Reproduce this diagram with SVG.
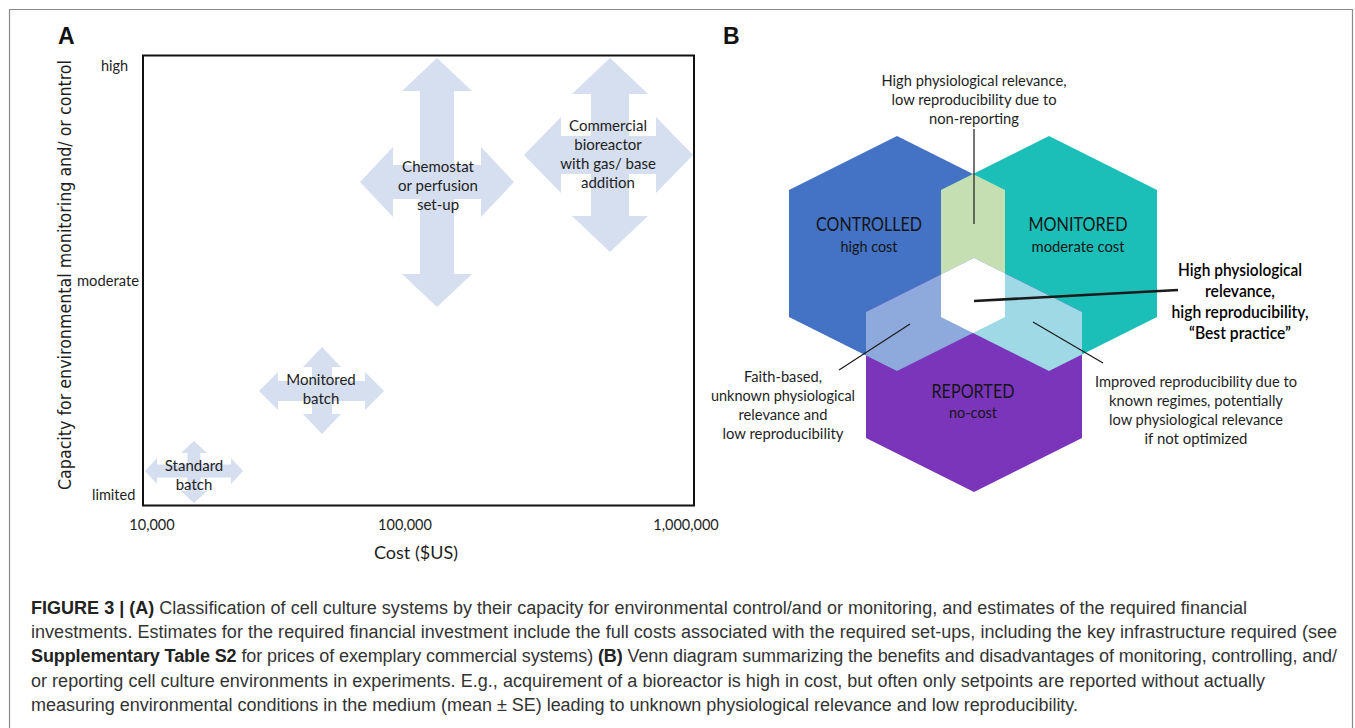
<svg xmlns="http://www.w3.org/2000/svg" width="1355" height="728" viewBox="0 0 1355 728">
<defs>
<style>
.frame{fill:none;stroke:#8a8a8a;stroke-width:1.2}
.arr{fill:#d5dfef}
.lbl{font-family:Lato,"Liberation Sans",sans-serif;fill:#1e1e1e;text-anchor:middle}
.tick{font-family:Lato,"Liberation Sans",sans-serif;fill:#1e1e1e;font-size:14.5px}
.panel{font-family:"Liberation Sans",Arial,sans-serif;font-weight:bold;font-size:23px;fill:#111}
.ann{font-family:Lato,"Liberation Sans",sans-serif;fill:#1e1e1e;text-anchor:middle;font-size:14.5px}
.annb{font-family:Lato,"Liberation Sans",sans-serif;fill:#000;text-anchor:middle;font-size:16.5px;font-weight:600}
.hexl{font-family:Lato,"Liberation Sans",sans-serif;fill:#151515;text-anchor:middle}
.cap{font-family:"Liberation Sans",Arial,sans-serif;font-size:18px;fill:#333}
.b{font-weight:bold;fill:#222}
.lead{stroke:#1a1a1a;fill:none}
</style>
<polygon id="hexC" points="897,136 1005,190 1005,317 897,371 789,317 789,190"/>
<polygon id="hexM" points="1049,136 1157,190 1157,317 1049,371 941,317 941,190"/>
<polygon id="hexR" points="974,258 1082,312 1082,438 974,492 866,438 866,312"/>
<clipPath id="clipC"><use href="#hexC"/></clipPath>
<clipPath id="clipM"><use href="#hexM"/></clipPath>
</defs>

<rect x="0" y="0" width="1355" height="728" fill="#ffffff"/>
<path class="frame" d="M9.5,728 V9.5 H1352.5 V728"/>

<!-- Panel A -->
<g id="panelA">
<text class="panel" x="58" y="44">A</text>
<rect id="plotBox" x="143" y="55.5" width="551" height="450" fill="none" stroke="#111" stroke-width="2"/>
<text class="tick" x="101" y="71">high</text>
<text class="tick" x="77" y="286" textLength="62" lengthAdjust="spacingAndGlyphs">moderate</text>
<text class="tick" x="92" y="500">limited</text>
<text class="tick" x="152" y="530" text-anchor="middle">10,000</text>
<text class="tick" x="405" y="530" text-anchor="middle">100,000</text>
<text class="tick" x="686" y="530" text-anchor="middle">1,000,000</text>
<text class="lbl" x="416" y="559" font-size="18">Cost ($US)</text>
<text class="lbl" transform="translate(71,275) rotate(-90)" font-size="17.5" textLength="430" lengthAdjust="spacingAndGlyphs" style="font-family:'DejaVu Sans',sans-serif">Capacity for environmental monitoring and/ or control</text>
</g>

<g id="node-chemostat">
<polygon class="arr" points="437,58 472,91 454,91 454,165 481,165 481,147 514,182 481,217 481,199 454,199 454,274 472,274 437,307 402,274 420,274 420,199 393,199 393,217 360,182 393,147 393,165 420,165 420,91 402,91"/>
<text class="lbl" font-size="15" x="438" y="172">Chemostat</text>
<text class="lbl" font-size="15" x="438" y="191">or perfusion</text>
<text class="lbl" font-size="15" x="438" y="210">set-up</text>
</g>

<g id="node-commercial">
<polygon class="arr" points="610,58 648,94 629,94 629,136 656,136 656,117 693,155 656,193 656,174 629,174 629,216 648,216 610,252 572,216 591,216 591,174 561,174 561,193 524,155 561,117 561,136 591,136 591,94 572,94"/>
<text class="lbl" font-size="15" x="608" y="131">Commercial</text>
<text class="lbl" font-size="15" x="608" y="150">bioreactor</text>
<text class="lbl" font-size="15" x="608" y="169">with gas/ base</text>
<text class="lbl" font-size="15" x="608" y="188">addition</text>
</g>

<g id="node-monitored-batch">
<polygon class="arr" points="322,347 341,367 332,367 332,381 365,381 365,372 384,391 365,410 365,401 332,401 332,414 341,414 322,434 303,414 312,414 312,401 278,401 278,410 259,391 278,372 278,381 312,381 312,367 303,367"/>
<text class="lbl" font-size="15" x="321" y="385">Monitored</text>
<text class="lbl" font-size="15" x="321" y="404">batch</text>
</g>

<g id="node-standard-batch">
<polygon class="arr" points="194,441 207,453 200.5,453 200.5,464.5 231,464.5 231,458 243,471 231,484 231,477.5 200.5,477.5 200.5,491 207,491 194,503 181,491 187.5,491 187.5,477.5 157,477.5 157,484 145,471 157,458 157,464.5 187.5,464.5 187.5,453 181,453"/>
<text class="lbl" font-size="15" x="194" y="471">Standard</text>
<text class="lbl" font-size="15" x="194" y="490">batch</text>
</g>

<!-- Panel B -->
<text class="panel" x="723" y="44">B</text>

<g id="node-controlled">
<use href="#hexC" fill="#4472c4"/>
</g>
<g id="node-monitored">
<use href="#hexM" fill="#1bbfb8"/>
<g clip-path="url(#clipC)"><use href="#hexM" fill="#c5dfb2"/></g>
</g>
<g id="node-reported">
<use href="#hexR" fill="#7b35bb"/>
<g clip-path="url(#clipC)"><use href="#hexR" fill="#8eaadc"/></g>
<g clip-path="url(#clipM)"><use href="#hexR" fill="#9fd9e5"/></g>
<g clip-path="url(#clipC)"><g clip-path="url(#clipM)"><use href="#hexR" fill="#ffffff"/></g></g>
</g>

<g id="labels-hex">
<text class="hexl" x="869" y="231" font-size="18.5" textLength="106" lengthAdjust="spacingAndGlyphs">CONTROLLED</text>
<text class="hexl" x="869" y="252" font-size="15" textLength="57" lengthAdjust="spacingAndGlyphs">high cost</text>
<text class="hexl" x="1078" y="231" font-size="18.5" textLength="99" lengthAdjust="spacingAndGlyphs">MONITORED</text>
<text class="hexl" x="1078" y="252" font-size="15" textLength="93" lengthAdjust="spacingAndGlyphs">moderate cost</text>
<text class="hexl" x="973" y="398" font-size="18.5" textLength="83" lengthAdjust="spacingAndGlyphs">REPORTED</text>
<text class="hexl" x="973" y="418" font-size="15" textLength="48" lengthAdjust="spacingAndGlyphs">no-cost</text>
</g>

<g id="connectors">
<line class="lead" x1="974" y1="129" x2="974" y2="224" stroke-width="1.2"/>
<line class="lead" x1="974" y1="301" x2="1178" y2="290" stroke-width="2.6"/>
<line class="lead" x1="910" y1="324" x2="839" y2="370" stroke-width="1.2"/>
<line class="lead" x1="1033" y1="322" x2="1103" y2="363" stroke-width="1.2"/>
</g>

<g id="note-top">
<text class="ann" x="974" y="86" textLength="185" lengthAdjust="spacingAndGlyphs">High physiological relevance,</text>
<text class="ann" x="974" y="105" textLength="165" lengthAdjust="spacingAndGlyphs">low reproducibility due to</text>
<text class="ann" x="974" y="124" textLength="90" lengthAdjust="spacingAndGlyphs">non-reporting</text>
</g>

<g id="note-best">
<text class="annb" x="1240" y="276" textLength="124" lengthAdjust="spacingAndGlyphs">High physiological</text>
<text class="annb" x="1240" y="297" textLength="70" lengthAdjust="spacingAndGlyphs">relevance,</text>
<text class="annb" x="1240" y="318" textLength="137" lengthAdjust="spacingAndGlyphs">high reproducibility,</text>
<text class="annb" x="1240" y="339" textLength="102" lengthAdjust="spacingAndGlyphs">“Best practice”</text>
</g>

<g id="note-faith">
<text class="ann" x="783" y="382" textLength="78" lengthAdjust="spacingAndGlyphs">Faith-based,</text>
<text class="ann" x="783" y="401" textLength="144" lengthAdjust="spacingAndGlyphs">unknown physiological</text>
<text class="ann" x="783" y="420" textLength="89" lengthAdjust="spacingAndGlyphs">relevance and</text>
<text class="ann" x="783" y="439" textLength="121" lengthAdjust="spacingAndGlyphs">low reproducibility</text>
</g>

<g id="note-improved">
<text class="ann" x="1196" y="387" textLength="202" lengthAdjust="spacingAndGlyphs">Improved reproducibility due to</text>
<text class="ann" x="1196" y="406" textLength="174" lengthAdjust="spacingAndGlyphs">known regimes, potentially</text>
<text class="ann" x="1196" y="425" textLength="174" lengthAdjust="spacingAndGlyphs">low physiological relevance</text>
<text class="ann" x="1196" y="444" textLength="103" lengthAdjust="spacingAndGlyphs">if not optimized</text>
</g>

<!-- Caption -->
<g id="caption">
<text class="cap" x="31" y="614" textLength="1216" lengthAdjust="spacing"><tspan class="b">FIGURE 3 | (A)</tspan> Classification of cell culture systems by their capacity for environmental control/and or monitoring, and estimates of the required financial</text>
<text class="cap" x="31" y="638" textLength="1306" lengthAdjust="spacing">investments. Estimates for the required financial investment include the full costs associated with the required set-ups, including the key infrastructure required (see</text>
<text class="cap" x="31" y="662" textLength="1306" lengthAdjust="spacing"><tspan class="b">Supplementary Table S2</tspan> for prices of exemplary commercial systems) <tspan class="b">(B)</tspan> Venn diagram summarizing the benefits and disadvantages of monitoring, controlling, and/</text>
<text class="cap" x="31" y="687" textLength="1234" lengthAdjust="spacing">or reporting cell culture environments in experiments. E.g., acquirement of a bioreactor is high in cost, but often only setpoints are reported without actually</text>
<text class="cap" x="31" y="711" textLength="1047" lengthAdjust="spacing">measuring environmental conditions in the medium (mean ± SE) leading to unknown physiological relevance and low reproducibility.</text>
</g>
</svg>
